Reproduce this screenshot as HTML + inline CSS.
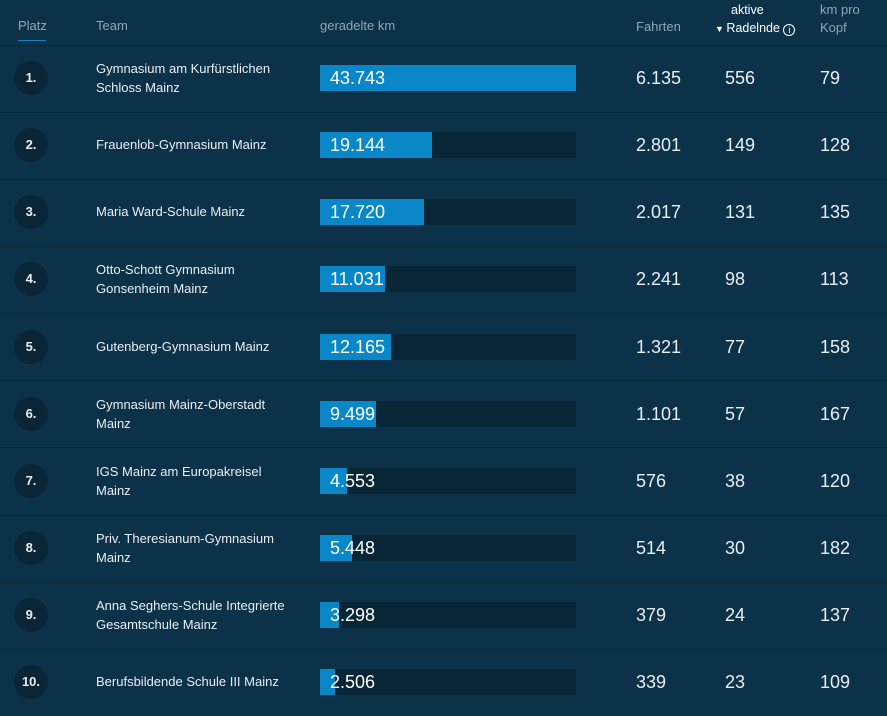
<!DOCTYPE html>
<html><head><meta charset="utf-8"><style>
body{margin:0;width:887px;height:716px;background:#0c3249;font-family:"Liberation Sans",sans-serif;overflow:hidden;position:relative;color:#e8eef2}
.a{position:absolute}
.h{color:#8fa6b4;font-size:13px}
.sep{position:absolute;left:0;width:887px;height:1px;background:#09283a}
.c{position:absolute;left:14px;width:34px;height:34px;border-radius:50%;background:#0a2536;font-size:13px;font-weight:bold;text-align:center;line-height:34px}
.t{position:absolute;left:96px;font-size:13px;line-height:19px;width:220px}
.tr{position:absolute;left:320px;width:256px;height:26px;background:#082636}
.b{position:absolute;left:0;top:0;height:26px;background:#0a87c9}
.v{position:absolute;left:10px;top:0;line-height:26px;font-size:18px;color:#fff}
.n{position:absolute;font-size:18px;line-height:26px}
</style></head><body>
<div class="a h" style="left:18px;top:18px">Platz</div>
<div class="a" style="left:18px;top:40px;width:28px;height:1px;background:#1e7fbf"></div>
<div class="a h" style="left:96px;top:18px">Team</div>
<div class="a h" style="left:320px;top:18px">geradelte km</div>
<div class="a h" style="left:636px;top:19px">Fahrten</div>
<div class="a" style="left:731px;top:1px;font-size:12.5px;color:#fff;line-height:18px">aktive<br><span style="font-size:9px;margin-left:-16px">▼ </span>Radelnde <span style="display:inline-block;width:10px;height:10px;border:1.3px solid #fff;border-radius:50%;font-size:9px;line-height:10px;text-align:center;vertical-align:-1px">i</span></div>
<div class="a h" style="left:820px;top:1px;line-height:18px">km pro<br>Kopf</div>
<div id="rows"></div>
<script>
const d=[["Gymnasium am Kurfürstlichen<br>Schloss Mainz",43743,"43.743","6.135","556","79"],
["Frauenlob-Gymnasium Mainz",19144,"19.144","2.801","149","128"],
["Maria Ward-Schule Mainz",17720,"17.720","2.017","131","135"],
["Otto-Schott Gymnasium<br>Gonsenheim Mainz",11031,"11.031","2.241","98","113"],
["Gutenberg-Gymnasium Mainz",12165,"12.165","1.321","77","158"],
["Gymnasium Mainz-Oberstadt<br>Mainz",9499,"9.499","1.101","57","167"],
["IGS Mainz am Europakreisel<br>Mainz",4553,"4.553","576","38","120"],
["Priv. Theresianum-Gymnasium<br>Mainz",5448,"5.448","514","30","182"],
["Anna Seghers-Schule Integrierte<br>Gesamtschule Mainz",3298,"3.298","379","24","137"],
["Berufsbildende Schule III Mainz",2506,"2.506","339","23","109"]];
let h="";
d.forEach((r,i)=>{const top=44.5+67.15*i,cy=top+33.5;
h+=`<div class="sep" style="top:${top}px"></div>`;
h+=`<div class="c" style="top:${cy-17}px">${i+1}.</div>`;
const two=r[0].includes("<br>");
h+=`<div class="t" style="top:${cy-(two?19:10)}px">${r[0]}</div>`;
h+=`<div class="tr" style="top:${cy-13}px"><div class="b" style="width:${(r[1]/43743*256).toFixed(1)}px"></div><div class="v">${r[2]}</div></div>`;
h+=`<div class="n" style="left:636px;top:${cy-13}px">${r[3]}</div><div class="n" style="left:725px;top:${cy-13}px">${r[4]}</div><div class="n" style="left:820px;top:${cy-13}px">${r[5]}</div>`;});
document.getElementById("rows").innerHTML=h;
</script>
</body></html>
